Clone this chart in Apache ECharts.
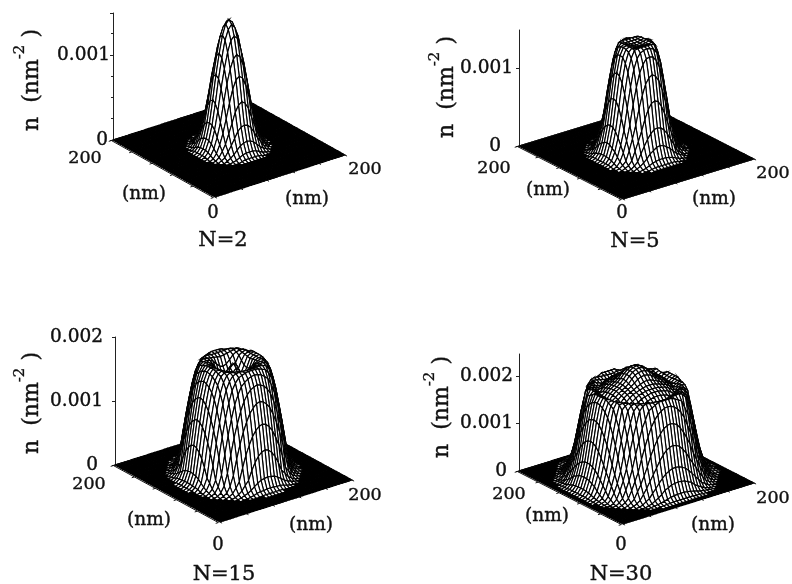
<!DOCTYPE html>
<html><head><meta charset="utf-8">
<style>html,body{margin:0;padding:0;background:#fff}#c{width:792px;height:584px}</style>
<script src="https://cdn.jsdelivr.net/npm/echarts@6/dist/echarts.min.js"></script>
</head><body><div id="c"></div>
<script>
// Axis values
const gridNm = [0,5,10,15,20,25,30,35,40,45,50,55,60,65,70,75,80,85,90,95,100,105,110,115,120,125,130,135,140,145,150,155,160,165,170,175,180,185,190,195,200];
const baseTicks = [0,40,80,120,160,200];
const panelNames = ['N=2','N=5','N=15','N=30'];
// Heights in units of 1e-5 nm^-2: one octant around the centre (100,100) nm.
// Row = larger cell offset from the centre, column = smaller cell offset (cell = 5 nm). Missing = 0.
const heightsN2 = [
[150],[146,141],[134,130,117],[114,110,99,83],[90,87,77,62,45],[62,59,52,40,29,18],
[36,35,31,24,17,11,5],[19,18,16,12,8,5,3,1],[8,8,7,5,3,2,1,1],[3,3,3,2,1,1,1],[1,1,1,1,1]];
const heightsN5 = [
[138],[139,139],[140,140,140],[141,141,141,140],[140,139,137,131,118],[131,130,124,114,97,76],
[110,107,100,87,71,51,35],[78,76,69,58,44,32,21,10],[45,44,40,34,26,18,9,5,2],
[24,23,20,17,12,8,5,3,1,1],[9,9,8,7,5,3,2,1,1],[3,3,3,3,2,1,1],[1,1,1,1,1]];
const heightsN15 = [
[170],[165,160],[152,150,147],[146,147,152,160],[157,159,164,170,173],[170,171,172,173,174,175],
[174,174,174,175,174,172,165],[175,175,174,172,170,163,153,135],[170,169,167,163,158,147,133,112,88],
[157,155,152,146,137,123,105,85,60,33],[133,131,126,119,107,93,75,54,30,15,6],
[100,98,93,85,73,59,41,21,13,6,3,1],[62,60,55,47,36,22,16,9,5,2,1],
[22,21,20,17,13,9,6,4,2,1],[7,7,6,6,5,3,2,1,1],[2,2,2,2,1,1,1,1]];
const heightsN30 = [
[234],[232,231],[228,227,224],[222,221,218,212],[214,213,210,207,203],[207,207,205,203,200,198],
[202,202,201,199,197,193,188],[198,198,196,194,192,187,185,188],[192,192,190,188,184,186,189,191,189],
[184,184,185,186,188,190,191,188,180,157],[189,189,190,190,191,192,189,181,154,129,99],
[192,192,192,188,184,180,163,147,122,96,68,46],[181,180,176,170,161,148,130,110,87,62,45,28,14],
[148,146,142,133,122,108,92,72,55,39,26,13,7,3],[105,103,99,91,81,68,56,44,32,21,11,6,3,1],
[62,61,58,54,47,39,30,22,13,9,4,2,1],[34,33,32,28,25,18,13,9,5,3,1,1],
[13,13,12,11,9,7,5,4,3,2,1,1],[4,4,4,4,3,3,2,2,1,1,1],[1,1,1,1,1,1,1]];
const panelHeights = [heightsN2,heightsN5,heightsN15,heightsN30];
const zMax = [0.00149,0.00149,0.002,0.00246];
const zMinor = [4,0,0,0];

// Layout: left/right/front floor corners, pixel y of the z axis top
const layouts = [
 {left:[113,140],right:[345,155],front:[215,197],top:13,margin:3,zeroPad:2},
 {left:[519,146],right:[754,159],front:[623,199],top:30,margin:6,zeroPad:12},
 {left:[115,465],right:[352,480],front:[220,522],top:337,margin:12,zeroPad:5},
 {left:[519,471],right:[754,483],front:[623,524],top:354,margin:6,zeroPad:6}
];
const texts = [
 {t200:[85,158],nmL:[144,194],z:[213,213],r200:[365,169],nmR:[307,199],name:[223,241],ttl:[28,80]},
 {t200:[494,168],nmL:[548,190],z:[622,213],r200:[773,173],nmR:[714,199],name:[635,242],ttl:[443,87]},
 {t200:[89,484],nmL:[149,520],z:[218,545],r200:[365,495],nmR:[311,525],name:[224,575],ttl:[28,403]},
 {t200:[509,494],nmL:[547,516],z:[621,545],r200:[773,498],nmR:[713,525],name:[621,575],ttl:[438,407]}
];
const FONT = '"DejaVu Serif","Liberation Serif",serif';

const chart = echarts.init(document.getElementById('c'),null,{renderer:'canvas'});
const grids=[],xAxes=[],yAxes=[],series=[],graphics=[];

function heightAt(tbl,ix,iy){
  const a=Math.abs(ix-20),b=Math.abs(iy-20);
  const row=tbl[Math.max(a,b)];
  if(!row) return 0;
  return row[Math.min(a,b)]||0;
}

panelHeights.forEach((tbl,p)=>{
  const L=layouts[p];
  const zPx=L.left[1]-L.top, k=zPx/zMax[p];      // px per unit of n
  const ux=(L.right[0]-L.front[0])/200, vx=(L.left[0]-L.front[0])/200;  // px per nm horizontally
  const uy=(L.front[1]-L.right[1])/200, vy=(L.front[1]-L.left[1])/200;  // px per nm upward
  grids.push({left:L.left[0],top:L.top,width:L.right[0]-L.left[0],height:zPx});
  xAxes.push({type:'value',gridIndex:p,show:false,min:vx*200,max:vx*200+(L.right[0]-L.left[0]),splitLine:{show:false}});
  yAxes.push({type:'value',gridIndex:p,min:0,max:zMax[p],interval:0.001,
    axisLine:{show:true,onZero:false,lineStyle:{color:'#222',width:1}},
    axisTick:{show:true,length:3,lineStyle:{color:'#222'}},
    minorTick:{show:zMinor[p]>0,splitNumber:zMinor[p]||5,length:2,lineStyle:{color:'#222'}},
    splitLine:{show:false},minorSplitLine:{show:false},
    axisLabel:{show:true,showMaxLabel:p===2,margin:L.margin,color:'#111',fontFamily:FONT,fontSize:18.5,
      textBorderColor:'#111',textBorderWidth:0.4,
      rich:{z:{padding:[0,L.zeroPad,0,0],color:'#111',fontFamily:FONT,fontSize:18.5,textBorderColor:'#111',textBorderWidth:0.4}},
      formatter:v=>v===0?'{z|0}':v.toFixed(3)}});
  const proj=(x,y,n)=>[x*ux+y*vx, n+(x*uy+(y-200)*vy)/k];
  // mesh cells, back to front
  const cells=[];
  for(let i=gridNm.length-2;i>=0;i--)for(let j=gridNm.length-2;j>=0;j--)cells.push([i,j]);
  series.push({type:'custom',xAxisIndex:p,yAxisIndex:p,coordinateSystem:'cartesian2d',silent:true,
    animation:false,clip:false,data:cells,progressive:0,encode:{x:0,y:1},
    renderItem:(params,api)=>{
      const i=api.value(0),j=api.value(1);
      const cs=[[i,j],[i+1,j],[i+1,j+1],[i,j+1]];
      let sum=0;
      const pts=cs.map(c=>{const h=heightAt(tbl,c[0],c[1]);sum+=h;
        return api.coord(proj(gridNm[c[0]],gridNm[c[1]],h*1e-5));});
      return {type:'polygon',shape:{points:pts},
        style:{fill:sum<4?'#000':'#fff',stroke:'#000',lineWidth:1.15}};
    }});
  // base edges and ticks
  const off=-2.5;
  series.push({type:'custom',xAxisIndex:p,yAxisIndex:p,coordinateSystem:'cartesian2d',silent:true,
    animation:false,clip:false,data:baseTicks.map(t=>[t]),encode:{x:0},
    renderItem:(params,api)=>{
      const t=api.value(0);
      const seg=(a,b)=>({type:'line',shape:{x1:a[0],y1:a[1],x2:b[0],y2:b[1]},style:{stroke:'#111',lineWidth:1}});
      const c=(x,y)=>api.coord(proj(x,y,0));
      const children=[seg(c(t,0),c(t,-4)),seg(c(off,t),c(off-4,t))];
      if(t===0){children.push(seg(c(off,0),c(off,200)));}
      return {type:'group',children};
    }});
  // labels
  const T=texts[p];
  const label=(pos,text,size)=>graphics.push({type:'text',x:pos[0],y:pos[1],silent:true,
    style:{text,fill:'#111',stroke:'#111',lineWidth:0.4,font:size+'px '+FONT,align:'center',verticalAlign:'middle'}});
  label(T.t200,'200',17.5);label(T.r200,'200',17.5);label(T.z,'0',18);
  label(T.nmL,'(nm)',18.5);label(T.nmR,'(nm)',18.5);label(T.name,panelNames[p],21);
  graphics.push({type:'text',x:T.ttl[0],y:T.ttl[1],rotation:Math.PI/2,silent:true,
    style:{text:'{a|n  (nm}{b|-2}{a| )}',align:'center',verticalAlign:'middle',
      rich:{a:{font:'22px '+FONT,fill:'#111',stroke:'#111',lineWidth:0.4,verticalAlign:'bottom'},b:{font:'15px '+FONT,fill:'#111',stroke:'#111',lineWidth:0.3,verticalAlign:'top',lineHeight:30}}}});
});

chart.setOption({animation:false,backgroundColor:'#fff',grid:grids,xAxis:xAxes,yAxis:yAxes,series,graphic:{elements:graphics}});
</script></body></html>
